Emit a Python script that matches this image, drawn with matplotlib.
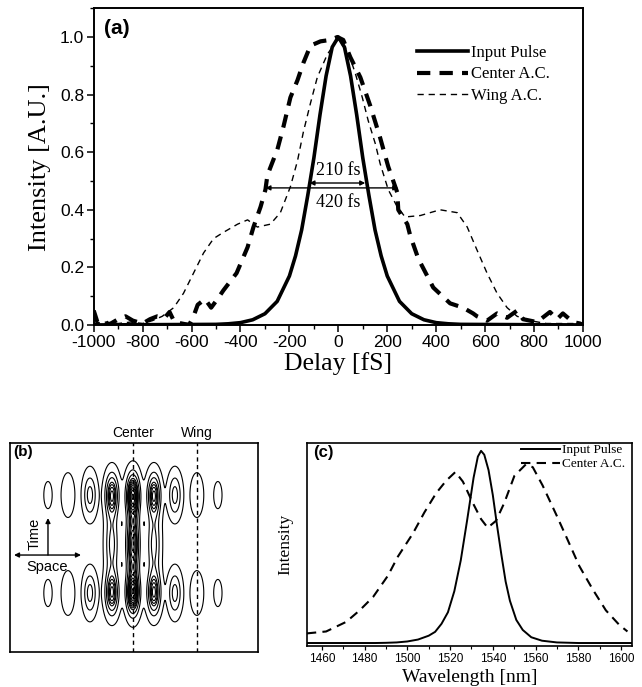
import numpy as np
import matplotlib
matplotlib.use('Agg')
import matplotlib.pyplot as plt
from matplotlib.ticker import MultipleLocator, FormatStrFormatter

SERIF = 'Liberation Serif'
SANS = 'Liberation Sans'
plt.rcParams['axes.unicode_minus'] = False

# ---- panel (a): autocorrelation traces, delay in fs ----
delay_input = [-1000, -500, -450, -400, -350, -300, -250, -200, -175, -150, -125, -100,
               -75, -50, -25, 0, 25, 50, 75, 100, 125, 150, 175, 200, 250, 300, 350,
               400, 450, 500, 1000]
int_input = [0, 0.002, 0.004, 0.008, 0.018, 0.039, 0.082, 0.17, 0.24, 0.33, 0.45, 0.58,
             0.73, 0.865, 0.965, 1.0, 0.965, 0.865, 0.73, 0.58, 0.45, 0.33, 0.24, 0.17,
             0.082, 0.039, 0.018, 0.008, 0.004, 0.002, 0]

delay_center = [-1000, -985, -960, -940, -900, -870, -840, -800, -770, -740, -710, -690,
                -670, -640, -610, -592, -575, -545, -520, -494, -470, -416, -371, -347,
                -318, -298, -290, -249, -224, -196, -167, -143, -114, -73, -33, -4, 20,
                49, 90, 131, 171, 204, 241, 245, 282, 294, 327, 388, 457, 510, 551, 567,
                608, 649, 690, 731, 755, 812, 865, 894, 918, 959, 988, 1000]
int_center = [0.05, 0.01, 0.02, 0.0, 0.02, 0.03, 0.015, 0.005, 0.02, 0.03, 0.025, 0.045,
              0.01, 0.005, 0.0, 0.03, 0.07, 0.09, 0.06, 0.09, 0.12, 0.18, 0.27, 0.34,
              0.41, 0.47, 0.52, 0.61, 0.69, 0.79, 0.85, 0.91, 0.97, 0.985, 0.99, 1.0, 0.99,
              0.93, 0.86, 0.76, 0.65, 0.55, 0.46, 0.40, 0.35, 0.31, 0.23, 0.13, 0.075, 0.06,
              0.04, 0.03, 0.015, 0.04, 0.025, 0.05, 0.02, 0.01, 0.045, 0.02, 0.04, 0.01,
              0.005, 0.0]

delay_wing = [-1000, -950, -900, -850, -800, -760, -720, -673, -633, -592, -551, -510,
              -473, -412, -371, -331, -278, -237, -196, -167, -143, -114, -86, -45, -4,
              37, 69, 98, 122, 151, 171, 204, 241, 273, 335, 416, 486, 527, 567, 608,
              649, 690, 731, 784, 850, 1000]
int_wing = [0.005, 0.01, 0.005, 0.01, 0.005, 0.015, 0.03, 0.06, 0.11, 0.18, 0.25, 0.30,
            0.32, 0.35, 0.365, 0.34, 0.35, 0.39, 0.48, 0.57, 0.67, 0.77, 0.86, 0.94, 0.99,
            0.955, 0.875, 0.79, 0.71, 0.63, 0.56, 0.47, 0.41, 0.375, 0.38, 0.40, 0.39,
            0.34, 0.26, 0.18, 0.11, 0.06, 0.03, 0.015, 0.005, 0.005]

# FWHM markers (start, end, level)
fwhm_210 = (-118, 110, 0.493)
fwhm_420 = (-298, 245, 0.476)

# ---- panel (b): interference pattern lobes (space, time in panel units) ----
lobe_x = [38, 58, 80, 102, 123, 144, 165, 187, 208]
lobe_amp = [0.08, 0.18, 0.42, 0.75, 1.0, 0.75, 0.42, 0.18, 0.08]
lobe_mid = [0.0, 0.0, 0.0, 0.55, 0.85, 0.55, 0.0, 0.0, 0.0]
row_t = [59, 157]
mid_t = 108
contour_levels = [0.05, 0.2, 0.35, 0.5, 0.58, 0.66, 0.74, 0.82, 0.9, 0.98, 1.06, 1.14,
                  1.22, 1.3]
center_x = 123
wing_x = 187

# ---- panel (c): spectra ----
wl_input = [1453, 1485, 1490, 1495, 1500, 1505, 1510, 1513, 1516, 1519, 1522, 1525, 1528,
            1531, 1533, 1534.5, 1536, 1538, 1540, 1542, 1544, 1546, 1548, 1551, 1554,
            1558, 1563, 1570, 1580, 1605]
spec_input = [0, 0, 0.001, 0.003, 0.008, 0.018, 0.038, 0.058, 0.10, 0.16, 0.27, 0.43, 0.64,
              0.86, 0.97, 1.0, 0.98, 0.90, 0.77, 0.61, 0.46, 0.32, 0.22, 0.12, 0.068,
              0.03, 0.012, 0.003, 0.0, 0]

wl_center = [1453, 1462, 1471.4, 1477.7, 1484, 1490.9, 1495.6, 1502.6, 1508, 1513.5,
             1518.2, 1522.5, 1526, 1530.6, 1534.5, 1537.6, 1541.5, 1545.4, 1550.1,
             1555.5, 1558.7, 1563.3, 1569.6, 1574.2, 1580.5, 1586.7, 1592.9, 1599.2, 1603]
spec_center = [0.05, 0.06, 0.11, 0.17, 0.24, 0.35, 0.45, 0.57, 0.68, 0.78,
               0.845, 0.89, 0.84, 0.73, 0.645, 0.60, 0.636, 0.73, 0.87,
               0.93, 0.915, 0.82, 0.67, 0.557, 0.40, 0.28, 0.17, 0.094, 0.06]


fig = plt.figure(figsize=(6.42, 6.87), dpi=100)

# ---------------- (a) ----------------
ax = fig.add_axes([0.146, 0.527, 0.762, 0.461])
l1, = ax.plot(delay_input, int_input, color='k', lw=2.6, label='Input Pulse')
l2, = ax.plot(delay_center, int_center, color='k', lw=3.0, dashes=(3.2, 2.2),
              label='Center A.C.')
l3, = ax.plot(delay_wing, int_wing, color='k', lw=1.0, dashes=(4.5, 3.5),
              label='Wing A.C.')

for x0, x1, yv in (fwhm_210, fwhm_420):
    ax.annotate('', xy=(x1, yv), xytext=(x0, yv),
                arrowprops=dict(arrowstyle='<|-|>', lw=1.0, color='k',
                                mutation_scale=7, shrinkA=0, shrinkB=0))
ax.text(0, 0.535, '210 fs', family=SERIF, fontsize=13, ha='center', va='center')
ax.text(0, 0.424, '420 fs', family=SERIF, fontsize=13, ha='center', va='center')
ax.text(0.02, 0.965, '(a)', transform=ax.transAxes, family=SANS, fontsize=15,
        fontweight='bold', ha='left', va='top')

ax.set_xlim(-1000, 1000)
ax.set_ylim(0, 1.1)
ax.xaxis.set_major_locator(MultipleLocator(200))
ax.xaxis.set_minor_locator(MultipleLocator(100))
ax.yaxis.set_major_locator(MultipleLocator(0.2))
ax.yaxis.set_minor_locator(MultipleLocator(0.1))
ax.yaxis.set_major_formatter(FormatStrFormatter('%.1f'))
ax.set_ylim(0, 1.1)
ax.tick_params(which='major', direction='out', length=5, width=1.1, labelsize=12.5, pad=2)
ax.tick_params(which='minor', direction='out', length=3, width=1.0)
for lab in ax.get_xticklabels() + ax.get_yticklabels():
    lab.set_family(SANS)
for s in ax.spines.values():
    s.set_linewidth(1.4)
ax.set_xlabel('Delay [fS]', family=SERIF, fontsize=18.5, labelpad=2)
ax.set_ylabel('Intensity [A.U.]', family=SERIF, fontsize=19, labelpad=6)
ax.legend(handles=[l1, l2, l3], loc='upper left', bbox_to_anchor=(0.66, 0.885),
          frameon=False, handlelength=3.1, handletextpad=0.15, labelspacing=0.35,
          borderpad=0, borderaxespad=0, prop={'family': SERIF, 'size': 12})

# ---------------- (b) ----------------
axb = fig.add_axes([0.0156, 0.051, 0.386, 0.304])
xs = np.linspace(0, 248, 500)
ts = np.linspace(0, 209, 420)
XX, TT = np.meshgrid(xs, ts)
field = np.zeros_like(XX)
for xc, a, m in zip(lobe_x, lobe_amp, lobe_mid):
    sx = np.exp(-(XX - xc) ** 2 / (2 * 4.3 ** 2))
    tpart = sum(np.exp(-(TT - tr) ** 2 / (2 * 14.0 ** 2)) for tr in row_t)
    tpart = tpart + m * np.exp(-(TT - mid_t) ** 2 / (2 * 22.0 ** 2))
    field += a * sx * tpart
axb.contour(XX, TT, field, levels=contour_levels, colors='k', linewidths=0.8)
for xv in (center_x, wing_x):
    axb.plot([xv, xv], [0, 209], color='k', lw=1.0, dashes=(3, 2.5))
axb.text(center_x, 212, 'Center', family=SANS, fontsize=10, ha='center', va='bottom')
axb.text(wing_x, 212, 'Wing', family=SANS, fontsize=10, ha='center', va='bottom')
axb.text(3, 207, '(b)', family=SANS, fontsize=11, fontweight='bold', ha='left', va='top')
axb.annotate('', xy=(38, 134), xytext=(38, 97),
             arrowprops=dict(arrowstyle='-|>', lw=1.0, color='k', mutation_scale=7,
                             shrinkA=0, shrinkB=0))
axb.annotate('', xy=(71, 97), xytext=(4, 97),
             arrowprops=dict(arrowstyle='<|-|>', lw=1.0, color='k', mutation_scale=7,
                             shrinkA=0, shrinkB=0))
axb.text(25, 118, 'Time', family=SANS, fontsize=10.5, rotation=90, ha='center', va='center')
axb.text(37, 85, 'Space', family=SANS, fontsize=10.5, ha='center', va='center')
axb.set_xlim(0, 248)
axb.set_ylim(0, 209)
axb.set_xticks([])
axb.set_yticks([])
for s in axb.spines.values():
    s.set_linewidth(1.2)

# ---------------- (c) ----------------
axc = fig.add_axes([0.478, 0.0597, 0.506, 0.2955])
c1, = axc.plot(wl_input, spec_input, color='k', lw=1.4, label='Input Pulse')
c2, = axc.plot(wl_center, spec_center, color='k', lw=1.5, dashes=(4.5, 3),
               label='Center A.C.')
axc.set_xlim(1453, 1605)
axc.set_ylim(-0.0155, 1.041)
axc.xaxis.set_major_locator(MultipleLocator(20))
axc.xaxis.set_minor_locator(MultipleLocator(10))
axc.set_yticks([])
axc.tick_params(which='major', direction='out', length=3, width=0.9, labelsize=8.5, pad=2)
axc.tick_params(which='minor', direction='out', length=2, width=0.8)
for lab in axc.get_xticklabels():
    lab.set_family(SANS)
for s in axc.spines.values():
    s.set_linewidth(1.2)
axc.set_xlabel('Wavelength [nm]', family=SERIF, fontsize=14, va='bottom')
axc.xaxis.set_label_coords(0.731, 0.002, transform=fig.transFigure)
axc.set_ylabel('Intensity', family=SERIF, fontsize=12.5, labelpad=10)
axc.text(0.02, 0.99, '(c)', transform=axc.transAxes, family=SANS, fontsize=12,
         fontweight='bold', ha='left', va='top')
axc.legend(handles=[c1, c2], loc='upper right', bbox_to_anchor=(0.98, 0.995),
           frameon=False, handlelength=3.0, handletextpad=0.15, labelspacing=0.15,
           borderpad=0, borderaxespad=0, prop={'family': SERIF, 'size': 9.5})

fig.savefig('out.png', dpi=100)
